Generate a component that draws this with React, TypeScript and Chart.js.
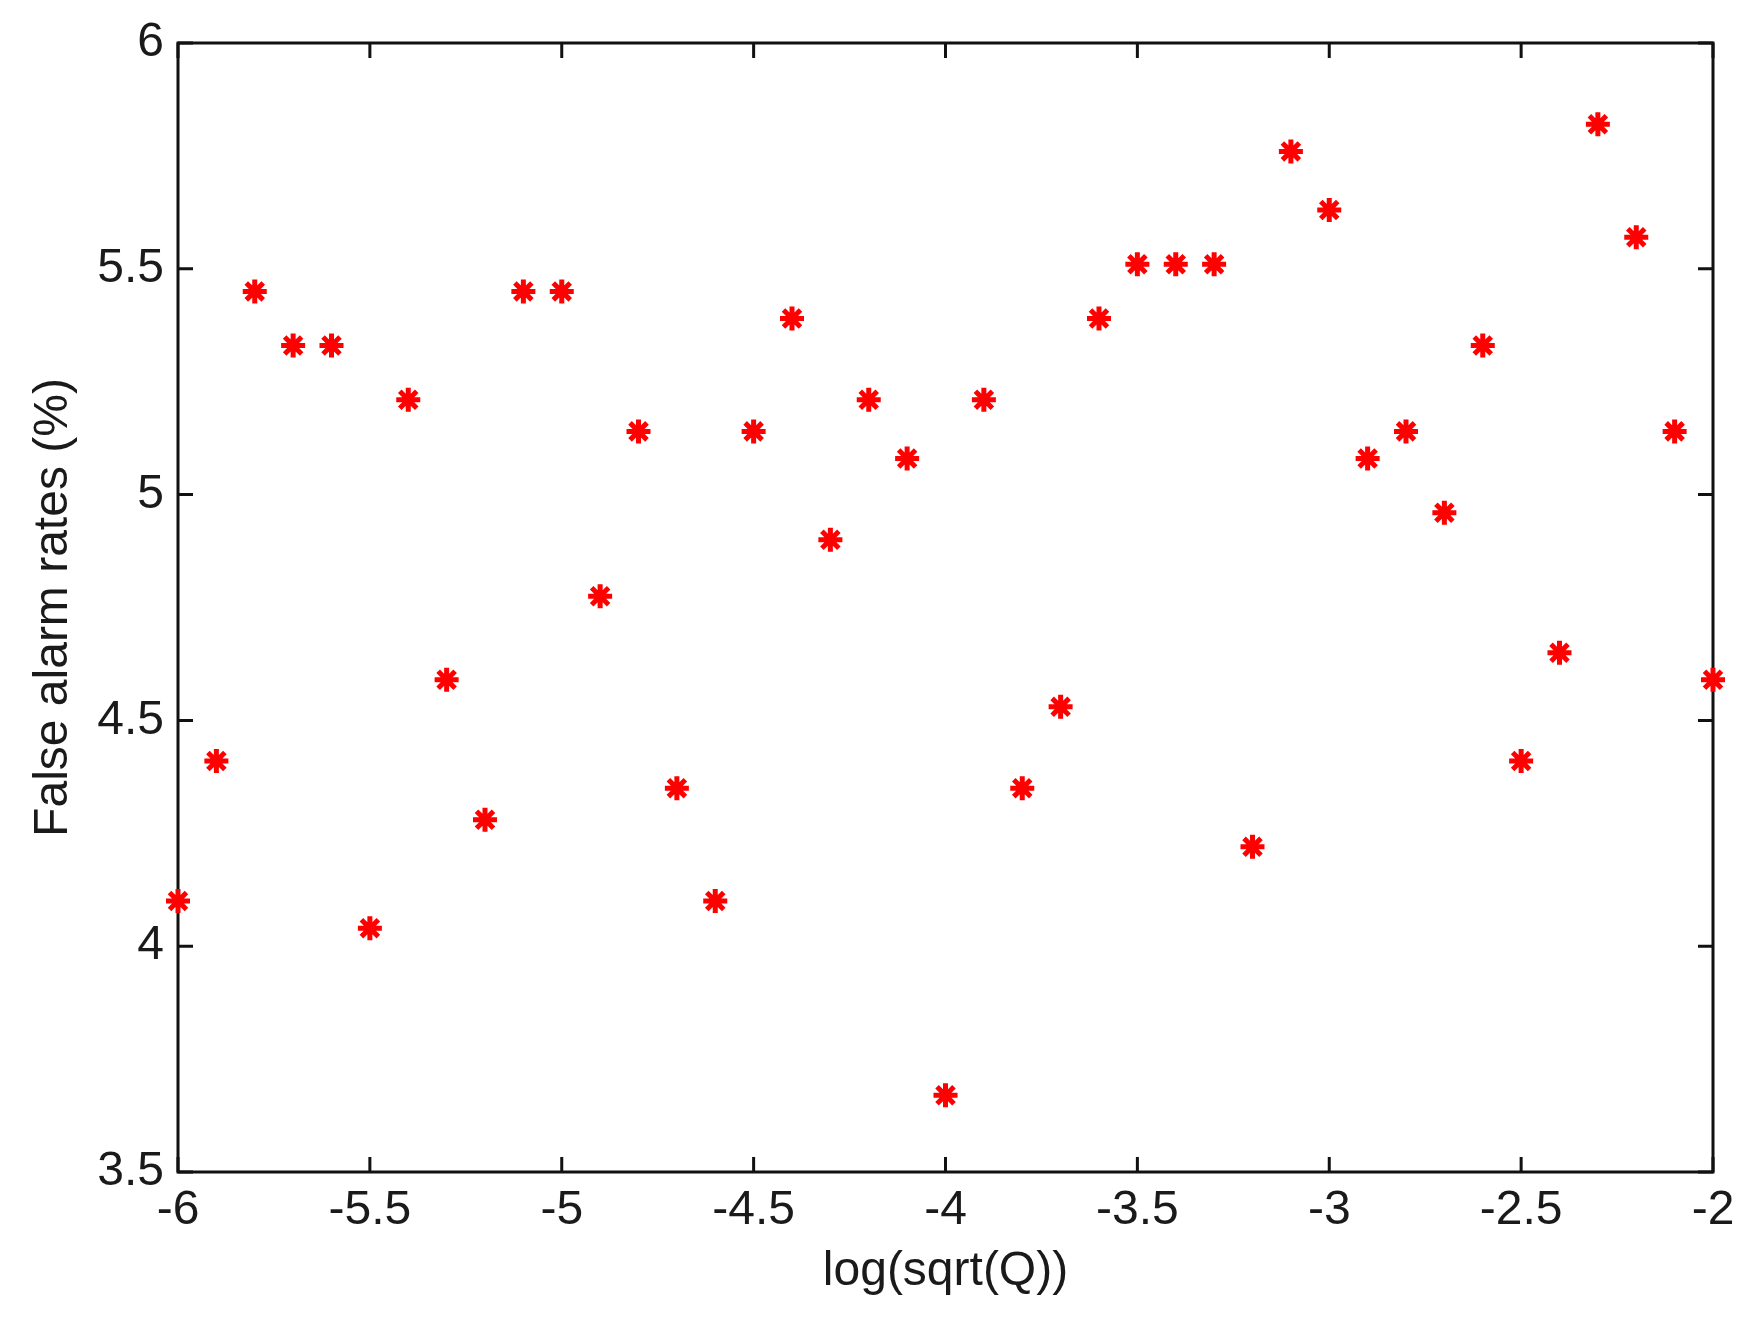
import React, { useEffect, useRef } from "react";
import { Chart, registerables } from "chart.js";

Chart.register(...registerables);

const xValues = [
  -6.0, -5.9, -5.8, -5.7, -5.6, -5.5, -5.4, -5.3, -5.2, -5.1, -5.0,
  -4.9, -4.8, -4.7, -4.6, -4.5, -4.4, -4.3, -4.2, -4.1, -4.0,
  -3.9, -3.8, -3.7, -3.6, -3.5, -3.4, -3.3, -3.2, -3.1, -3.0,
  -2.9, -2.8, -2.7, -2.6, -2.5, -2.4, -2.3, -2.2, -2.1, -2.0,
];
const falseAlarmRates = [
  4.10, 4.41, 5.45, 5.33, 5.33, 4.04, 5.21, 4.59, 4.28, 5.45, 5.45,
  4.775, 5.14, 4.35, 4.10, 5.14, 5.39, 4.90, 5.21, 5.08, 3.67,
  5.21, 4.35, 4.53, 5.39, 5.51, 5.51, 5.51, 4.22, 5.76, 5.63,
  5.08, 5.14, 4.96, 5.33, 4.41, 4.65, 5.82, 5.57, 5.14, 4.59,
];
const xTitle = "log(sqrt(Q))";
const yTitle = "False alarm rates (%)";

const FONT = "'Liberation Sans', Arial, Helvetica, sans-serif";

const fmt = (v: any) => `${+Number(v).toFixed(2)}`;

const framePlugin = {
  id: "matlabFrame",
  beforeDatasetsDraw(chart: any) {
    const { ctx, chartArea } = chart;
    const { left, right, top, bottom } = chartArea;
    const xs = chart.scales.x;
    const ys = chart.scales.y;
    const tl = 15;
    ctx.save();
    ctx.strokeStyle = "#111";
    ctx.lineWidth = 3;
    ctx.lineCap = "butt";
    ctx.beginPath();
    ctx.rect(left, top, right - left, bottom - top);
    ctx.stroke();
    ctx.beginPath();
    xs.ticks.forEach((t: any) => {
      const px = xs.getPixelForValue(t.value);
      ctx.moveTo(px, bottom);
      ctx.lineTo(px, bottom - tl);
      ctx.moveTo(px, top);
      ctx.lineTo(px, top + tl);
    });
    ys.ticks.forEach((t: any) => {
      const py = ys.getPixelForValue(t.value);
      ctx.moveTo(left, py);
      ctx.lineTo(left + tl, py);
      ctx.moveTo(right, py);
      ctx.lineTo(right - tl, py);
    });
    ctx.stroke();
    ctx.restore();
  },
};

export default function App() {
  const ref = useRef<HTMLCanvasElement | null>(null);

  useEffect(() => {
    document.body.style.margin = "0";
    document.body.style.background = "#ffffff";
    const canvas = ref.current;
    if (!canvas) return;
    const data = xValues.map((x, i) => ({ x, y: falseAlarmRates[i] }));
    const chart = new Chart(canvas, {
      type: "scatter",
      data: {
        datasets: [
          {
            data,
            pointStyle: "star",
            pointRadius: 12,
            pointHoverRadius: 12,
            pointBorderWidth: 5,
            borderColor: "#ff0000",
            backgroundColor: "#ff0000",
            clip: false,
          } as any,
        ],
      },
      options: {
        animation: false,
        responsive: false,
        maintainAspectRatio: false,
        events: [],
        layout: { padding: { top: 43, right: 37, left: 0, bottom: 0 } },
        plugins: {
          legend: { display: false },
          tooltip: { enabled: false },
        },
        scales: {
          x: {
            type: "linear",
            min: -6,
            max: -2,
            grid: { display: false, drawTicks: false },
            border: { display: false },
            ticks: {
              stepSize: 0.5,
              padding: 10,
              color: "#1a1a1a",
              font: { family: FONT, size: 48 },
              maxRotation: 0,
              autoSkip: false,
              callback: (v: any) => fmt(v),
            },
            title: {
              display: true,
              text: xTitle,
              color: "#1a1a1a",
              font: { family: FONT, size: 48 },
              padding: { top: 0, bottom: 26 },
            },
            afterFit(scale: any) {
              scale.height = 155;
              scale.paddingRight = 0;
              scale.paddingLeft = 0;
            },
          },
          y: {
            type: "linear",
            min: 3.5,
            max: 6,
            grid: { display: false, drawTicks: false },
            border: { display: false },
            ticks: {
              stepSize: 0.5,
              padding: 14,
              color: "#1a1a1a",
              font: { family: FONT, size: 48 },
              autoSkip: false,
              callback: (v: any) => fmt(v),
            },
            title: {
              display: true,
              text: yTitle,
              color: "#1a1a1a",
              font: { family: FONT, size: 48 },
              padding: { top: 25, bottom: 0 },
            },
            afterFit(scale: any) {
              scale.width = 178;
              scale.paddingTop = 0;
              scale.paddingBottom = 0;
            },
          },
        },
      } as any,
      plugins: [framePlugin],
    });
    return () => chart.destroy();
  }, []);

  return (
    <div style={{ width: 1750, height: 1327, background: "#fff" }}>
      <canvas ref={ref} width={1750} height={1327} style={{ display: "block" }} />
    </div>
  );
}
